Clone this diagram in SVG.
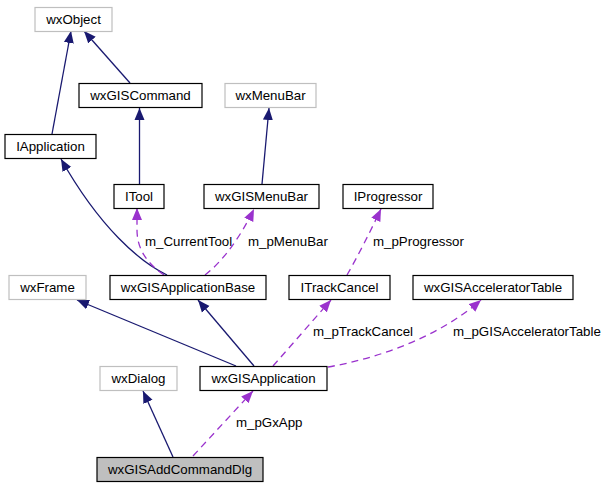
<svg xmlns="http://www.w3.org/2000/svg" width="604" height="488" viewBox="0 0 604 488">
<style>
text{font-family:"Liberation Sans",Arial,Helvetica,sans-serif;font-size:13.3px;fill:#000}
.n text{text-anchor:middle}
.ext{fill:#fff;stroke:#bfbfbf;stroke-width:1.2}
.doc{fill:#fff;stroke:#000;stroke-width:1.2}
.cur{fill:#bfbfbf;stroke:#000;stroke-width:1.2}
.inh{fill:none;stroke:#191970;stroke-width:1.3}
.use{fill:none;stroke:#9a32cd;stroke-width:1.3;stroke-dasharray:7,5}
</style>
<defs>
<marker id="ai" markerUnits="userSpaceOnUse" markerWidth="13" markerHeight="11" refX="12" refY="5.5" orient="auto"><path d="M0,0.5 L12,5.5 L0,10.5 z" fill="#191970"/></marker>
<marker id="au" markerUnits="userSpaceOnUse" markerWidth="13" markerHeight="11" refX="12" refY="5.5" orient="auto"><path d="M0,0.5 L12,5.5 L0,10.5 z" fill="#9a32cd"/></marker>
</defs>
<rect width="604" height="488" fill="#fff"/>
<g id="edges">
<path class="inh" marker-end="url(#ai)" d="M52,134 L71,31"/>
<path class="inh" marker-end="url(#ai)" d="M130,83 L84,31"/>
<path class="inh" marker-end="url(#ai)" d="M139.5,184 L139.5,108"/>
<path class="inh" marker-end="url(#ai)" d="M262,184 L269,108"/>
<path class="inh" marker-end="url(#ai)" d="M167,275 C140,262 100,228 61,159"/>
<path class="use" marker-end="url(#au)" d="M164,275 C148,264 137,250 137,230 L137,208"/>
<path class="use" marker-end="url(#au)" d="M205,275 C222,262 240,238 254,209"/>
<path class="use" marker-end="url(#au)" d="M347,275 C358,256 370,232 381,209"/>
<path class="inh" marker-end="url(#ai)" d="M236,366 L77,300"/>
<path class="inh" marker-end="url(#ai)" d="M254,366 L198,300"/>
<path class="use" marker-end="url(#au)" d="M273,366 L331,300"/>
<path class="use" marker-end="url(#au)" d="M328,367 C380,358 440,336 481,300"/>
<path class="inh" marker-end="url(#ai)" d="M173,457 L143,391"/>
<path class="use" marker-end="url(#au)" d="M193,456 L253,391"/>
<text x="145" y="246">m_CurrentTool</text>
<text x="248" y="246">m_pMenuBar</text>
<text x="373" y="246">m_pProgressor</text>
<text x="313" y="336">m_pTrackCancel</text>
<text x="453" y="336">m_pGISAcceleratorTable</text>
<text x="236" y="427">m_pGxApp</text>
</g>
<g id="wxObject" class="n"><rect class="ext" x="35" y="7.5" width="77" height="24"/><text x="73.5" y="24">wxObject</text></g>
<g id="wxGISCommand" class="n"><rect class="doc" x="79" y="83.5" width="123" height="24"/><text x="140.5" y="100">wxGISCommand</text></g>
<g id="wxMenuBar" class="n"><rect class="ext" x="225" y="83.5" width="91" height="24"/><text x="270.5" y="100">wxMenuBar</text></g>
<g id="IApplication" class="n"><rect class="doc" x="5" y="134.5" width="91" height="24"/><text x="50.5" y="151">IApplication</text></g>
<g id="ITool" class="n"><rect class="doc" x="114" y="184.5" width="50" height="24"/><text x="139" y="201">ITool</text></g>
<g id="wxGISMenuBar" class="n"><rect class="doc" x="204" y="184.5" width="115" height="24"/><text x="261.5" y="201">wxGISMenuBar</text></g>
<g id="IProgressor" class="n"><rect class="doc" x="343" y="184.5" width="90" height="24"/><text x="388" y="201">IProgressor</text></g>
<g id="wxFrame" class="n"><rect class="ext" x="9" y="275.5" width="77" height="24"/><text x="47.5" y="292">wxFrame</text></g>
<g id="wxGISApplicationBase" class="n"><rect class="doc" x="110" y="275.5" width="156" height="24"/><text x="188" y="292">wxGISApplicationBase</text></g>
<g id="ITrackCancel" class="n"><rect class="doc" x="289" y="275.5" width="101" height="24"/><text x="339.5" y="292">ITrackCancel</text></g>
<g id="wxGISAcceleratorTable" class="n"><rect class="doc" x="413" y="275.5" width="160" height="24"/><text x="493" y="292">wxGISAcceleratorTable</text></g>
<g id="wxDialog" class="n"><rect class="ext" x="100" y="366.5" width="77" height="24"/><text x="138.5" y="383">wxDialog</text></g>
<g id="wxGISApplication" class="n"><rect class="doc" x="200" y="366.5" width="127" height="24"/><text x="263.5" y="383">wxGISApplication</text></g>
<g id="wxGISAddCommandDlg" class="n"><rect class="cur" x="97" y="457.5" width="166" height="24"/><text x="180" y="474">wxGISAddCommandDlg</text></g>
</svg>
